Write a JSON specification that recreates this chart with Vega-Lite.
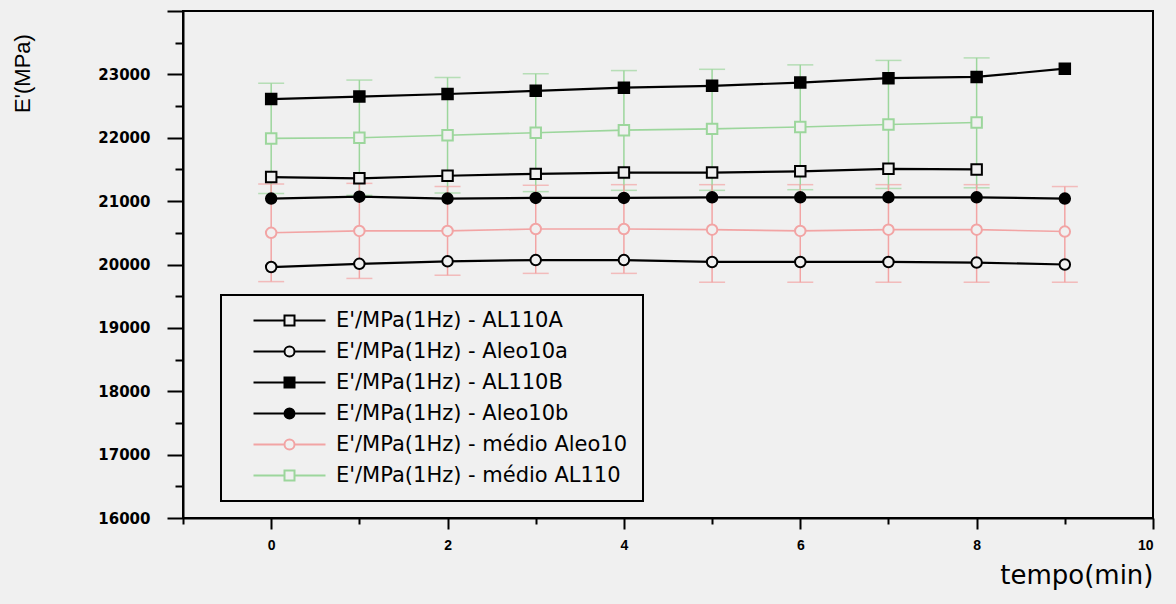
{
  "$schema": "https://vega.github.io/schema/vega-lite/v6.json",
  "width": 970,
  "height": 507,
  "autosize": {"type": "none"},
  "padding": {"left": 183, "top": 11, "right": 23, "bottom": 86},
  "background": "#f0f0f0",
  "config": {
    "view": {"stroke": "#000000", "strokeWidth": 2, "fill": "#f0f0f0"},
    "axis": {"grid": false, "domainColor": "#000000", "domainWidth": 2, "tickColor": "#000000", "tickWidth": 2, "labelColor": "#000000", "titleColor": "#000000"},
    "legend": {"orient": "none", "legendX": 38, "legendY": 284, "padding": 15, "rowPadding": 9, "labelOffset": 79, "labelLimit": 400, "labelFont": "DejaVu Sans", "labelFontSize": 21, "labelColor": "#000000", "symbolSize": 100, "symbolStrokeWidth": 2, "strokeColor": "#000000", "fillColor": "#f0f0f0"}
  },
  "datasets": {
    "curvas": [
      {"t": 0, "serie": "E'/MPa(1Hz) - AL110A", "E": 21380},
      {"t": 1, "serie": "E'/MPa(1Hz) - AL110A", "E": 21360},
      {"t": 2, "serie": "E'/MPa(1Hz) - AL110A", "E": 21400},
      {"t": 3, "serie": "E'/MPa(1Hz) - AL110A", "E": 21430},
      {"t": 4, "serie": "E'/MPa(1Hz) - AL110A", "E": 21450},
      {"t": 5, "serie": "E'/MPa(1Hz) - AL110A", "E": 21450},
      {"t": 6, "serie": "E'/MPa(1Hz) - AL110A", "E": 21470},
      {"t": 7, "serie": "E'/MPa(1Hz) - AL110A", "E": 21510},
      {"t": 8, "serie": "E'/MPa(1Hz) - AL110A", "E": 21500},
      {"t": 0, "serie": "E'/MPa(1Hz) - Aleo10a", "E": 19960},
      {"t": 1, "serie": "E'/MPa(1Hz) - Aleo10a", "E": 20010},
      {"t": 2, "serie": "E'/MPa(1Hz) - Aleo10a", "E": 20050},
      {"t": 3, "serie": "E'/MPa(1Hz) - Aleo10a", "E": 20070},
      {"t": 4, "serie": "E'/MPa(1Hz) - Aleo10a", "E": 20070},
      {"t": 5, "serie": "E'/MPa(1Hz) - Aleo10a", "E": 20040},
      {"t": 6, "serie": "E'/MPa(1Hz) - Aleo10a", "E": 20040},
      {"t": 7, "serie": "E'/MPa(1Hz) - Aleo10a", "E": 20040},
      {"t": 8, "serie": "E'/MPa(1Hz) - Aleo10a", "E": 20030},
      {"t": 9, "serie": "E'/MPa(1Hz) - Aleo10a", "E": 20000},
      {"t": 0, "serie": "E'/MPa(1Hz) - AL110B", "E": 22610},
      {"t": 1, "serie": "E'/MPa(1Hz) - AL110B", "E": 22650},
      {"t": 2, "serie": "E'/MPa(1Hz) - AL110B", "E": 22690},
      {"t": 3, "serie": "E'/MPa(1Hz) - AL110B", "E": 22740},
      {"t": 4, "serie": "E'/MPa(1Hz) - AL110B", "E": 22790},
      {"t": 5, "serie": "E'/MPa(1Hz) - AL110B", "E": 22820},
      {"t": 6, "serie": "E'/MPa(1Hz) - AL110B", "E": 22870},
      {"t": 7, "serie": "E'/MPa(1Hz) - AL110B", "E": 22940},
      {"t": 8, "serie": "E'/MPa(1Hz) - AL110B", "E": 22960},
      {"t": 9, "serie": "E'/MPa(1Hz) - AL110B", "E": 23090},
      {"t": 0, "serie": "E'/MPa(1Hz) - Aleo10b", "E": 21040},
      {"t": 1, "serie": "E'/MPa(1Hz) - Aleo10b", "E": 21070},
      {"t": 2, "serie": "E'/MPa(1Hz) - Aleo10b", "E": 21040},
      {"t": 3, "serie": "E'/MPa(1Hz) - Aleo10b", "E": 21050},
      {"t": 4, "serie": "E'/MPa(1Hz) - Aleo10b", "E": 21050},
      {"t": 5, "serie": "E'/MPa(1Hz) - Aleo10b", "E": 21060},
      {"t": 6, "serie": "E'/MPa(1Hz) - Aleo10b", "E": 21060},
      {"t": 7, "serie": "E'/MPa(1Hz) - Aleo10b", "E": 21060},
      {"t": 8, "serie": "E'/MPa(1Hz) - Aleo10b", "E": 21060},
      {"t": 9, "serie": "E'/MPa(1Hz) - Aleo10b", "E": 21040},
      {"t": 0, "serie": "E'/MPa(1Hz) - médio Aleo10", "E": 20500},
      {"t": 1, "serie": "E'/MPa(1Hz) - médio Aleo10", "E": 20530},
      {"t": 2, "serie": "E'/MPa(1Hz) - médio Aleo10", "E": 20530},
      {"t": 3, "serie": "E'/MPa(1Hz) - médio Aleo10", "E": 20560},
      {"t": 4, "serie": "E'/MPa(1Hz) - médio Aleo10", "E": 20560},
      {"t": 5, "serie": "E'/MPa(1Hz) - médio Aleo10", "E": 20550},
      {"t": 6, "serie": "E'/MPa(1Hz) - médio Aleo10", "E": 20530},
      {"t": 7, "serie": "E'/MPa(1Hz) - médio Aleo10", "E": 20550},
      {"t": 8, "serie": "E'/MPa(1Hz) - médio Aleo10", "E": 20550},
      {"t": 9, "serie": "E'/MPa(1Hz) - médio Aleo10", "E": 20520},
      {"t": 0, "serie": "E'/MPa(1Hz) - médio AL110", "E": 21990},
      {"t": 1, "serie": "E'/MPa(1Hz) - médio AL110", "E": 22000},
      {"t": 2, "serie": "E'/MPa(1Hz) - médio AL110", "E": 22040},
      {"t": 3, "serie": "E'/MPa(1Hz) - médio AL110", "E": 22080},
      {"t": 4, "serie": "E'/MPa(1Hz) - médio AL110", "E": 22120},
      {"t": 5, "serie": "E'/MPa(1Hz) - médio AL110", "E": 22140},
      {"t": 6, "serie": "E'/MPa(1Hz) - médio AL110", "E": 22170},
      {"t": 7, "serie": "E'/MPa(1Hz) - médio AL110", "E": 22210},
      {"t": 8, "serie": "E'/MPa(1Hz) - médio AL110", "E": 22240}
    ],
    "barras": [
      {"t": 0, "serie": "E'/MPa(1Hz) - médio AL110", "lo": 21120, "hi": 22860},
      {"t": 1, "serie": "E'/MPa(1Hz) - médio AL110", "lo": 21090, "hi": 22910},
      {"t": 2, "serie": "E'/MPa(1Hz) - médio AL110", "lo": 21130, "hi": 22950},
      {"t": 3, "serie": "E'/MPa(1Hz) - médio AL110", "lo": 21150, "hi": 23010},
      {"t": 4, "serie": "E'/MPa(1Hz) - médio AL110", "lo": 21170, "hi": 23060},
      {"t": 5, "serie": "E'/MPa(1Hz) - médio AL110", "lo": 21170, "hi": 23080},
      {"t": 6, "serie": "E'/MPa(1Hz) - médio AL110", "lo": 21180, "hi": 23150},
      {"t": 7, "serie": "E'/MPa(1Hz) - médio AL110", "lo": 21200, "hi": 23220},
      {"t": 8, "serie": "E'/MPa(1Hz) - médio AL110", "lo": 21210, "hi": 23260},
      {"t": 0, "serie": "E'/MPa(1Hz) - médio Aleo10", "lo": 19730, "hi": 21270},
      {"t": 1, "serie": "E'/MPa(1Hz) - médio Aleo10", "lo": 19780, "hi": 21280},
      {"t": 2, "serie": "E'/MPa(1Hz) - médio Aleo10", "lo": 19830, "hi": 21230},
      {"t": 3, "serie": "E'/MPa(1Hz) - médio Aleo10", "lo": 19860, "hi": 21250},
      {"t": 4, "serie": "E'/MPa(1Hz) - médio Aleo10", "lo": 19860, "hi": 21260},
      {"t": 5, "serie": "E'/MPa(1Hz) - médio Aleo10", "lo": 19720, "hi": 21260},
      {"t": 6, "serie": "E'/MPa(1Hz) - médio Aleo10", "lo": 19720, "hi": 21260},
      {"t": 7, "serie": "E'/MPa(1Hz) - médio Aleo10", "lo": 19720, "hi": 21260},
      {"t": 8, "serie": "E'/MPa(1Hz) - médio Aleo10", "lo": 19720, "hi": 21260},
      {"t": 9, "serie": "E'/MPa(1Hz) - médio Aleo10", "lo": 19720, "hi": 21230}
    ]
  },
  "layer": [
    {
      "data": {"name": "barras"},
      "mark": {"type": "errorbar", "thickness": 1.5, "ticks": {"size": 26, "thickness": 1.5}},
      "encoding": {
        "x": {"field": "t", "type": "quantitative", "axis": null, "scale": {"domain": [-1, 10], "nice": false, "zero": false}},
        "y": {"field": "lo", "type": "quantitative", "axis": null, "scale": {"domain": [16000, 24000], "nice": false, "zero": false}},
        "y2": {"field": "hi"},
        "color": {"field": "serie", "type": "nominal", "legend": null, "scale": {"domain": ["E'/MPa(1Hz) - médio Aleo10", "E'/MPa(1Hz) - médio AL110"], "range": ["#f2a4a4", "#9cd69c"]}}
      }
    },
    {
      "data": {"name": "curvas"},
      "transform": [{"filter": "indexof(datum.serie, 'médio') >= 0"}],
      "mark": {"type": "line", "strokeWidth": 1.6},
      "encoding": {
        "x": {"field": "t", "type": "quantitative", "axis": {"orient": "bottom", "values": [-1, 1, 3, 5, 7, 9], "tickSize": 6, "labels": false, "domain": false, "title": null}},
        "y": {"field": "E", "type": "quantitative", "axis": {"orient": "left", "values": [16500, 17500, 18500, 19500, 20500, 21500, 22500, 23500], "tickSize": 8, "labels": false, "domain": false, "title": null}},
        "stroke": {"field": "serie", "type": "nominal",
          "legend": {"title": null, "encode": {
            "symbols": {"update": {"shape": {"signal": "test(/AL110/, datum.value) ? 'M1.4,0H7.6M9.6,0H15.8M7.6,-1H9.6V1H7.6Z' : 'M1.4,0H7.6M9.6,0H15.8M9.6,0A1,1,0,1,1,7.6,0A1,1,0,1,1,9.6,0Z'"}, "fill": {"scale": "fill", "field": "value"}, "stroke": {"scale": "stroke", "field": "value"}, "strokeWidth": {"value": 2}, "opacity": {"value": 1}}},
            "legend": {"update": {"strokeWidth": {"value": 2}}}}}},
        "detail": {"field": "serie", "type": "nominal"}
      }
    },
    {
      "data": {"name": "curvas"},
      "transform": [{"filter": "indexof(datum.serie, 'médio') < 0"}],
      "mark": {"type": "line", "strokeWidth": 2.2},
      "encoding": {
        "x": {"field": "t", "type": "quantitative", "axis": {"orient": "bottom", "values": [0, 2, 4, 6, 8, 10], "tickSize": 11, "labelPadding": 9, "labelFont": "Liberation Sans", "labelFontSize": 14, "labelFontWeight": "bold", "title": "tempo(min)", "titleFont": "DejaVu Sans", "titleFontSize": 26, "titleFontWeight": "normal", "titleAnchor": "end", "titlePadding": 10}},
        "y": {"field": "E", "type": "quantitative", "axis": {"orient": "left", "values": [16000, 17000, 18000, 19000, 20000, 21000, 22000, 23000, 24000], "format": "d", "labelExpr": "datum.value == 24000 ? '' : datum.label", "tickSize": 16, "labelPadding": 17, "labelFont": "DejaVu Sans", "labelFontSize": 15, "labelFontWeight": "bold", "title": "E'(MPa)", "titleFont": "Liberation Sans", "titleFontSize": 22, "titleFontWeight": "normal", "titleX": -161, "titleY": 62, "titleAngle": -90, "titleAlign": "center", "titleBaseline": "middle"}},
        "stroke": {"field": "serie", "type": "nominal",
          "legend": {"title": null, "encode": {
            "symbols": {"update": {"shape": {"signal": "test(/AL110/, datum.value) ? 'M1.4,0H7.6M9.6,0H15.8M7.6,-1H9.6V1H7.6Z' : 'M1.4,0H7.6M9.6,0H15.8M9.6,0A1,1,0,1,1,7.6,0A1,1,0,1,1,9.6,0Z'"}, "fill": {"scale": "fill", "field": "value"}, "stroke": {"scale": "stroke", "field": "value"}, "strokeWidth": {"value": 2}, "opacity": {"value": 1}}},
            "legend": {"update": {"strokeWidth": {"value": 2}}}}}},
        "detail": {"field": "serie", "type": "nominal"}
      }
    },
    {
      "data": {"name": "curvas"},
      "mark": {"type": "point", "filled": true, "size": 110, "strokeWidth": 2, "opacity": 1},
      "encoding": {
        "x": {"field": "t", "type": "quantitative", "axis": null},
        "y": {"field": "E", "type": "quantitative", "axis": null},
        "shape": {"field": "serie", "type": "nominal", "legend": null, "scale": {"domain": ["E'/MPa(1Hz) - médio AL110", "E'/MPa(1Hz) - médio Aleo10", "E'/MPa(1Hz) - Aleo10b", "E'/MPa(1Hz) - AL110B", "E'/MPa(1Hz) - Aleo10a", "E'/MPa(1Hz) - AL110A"], "range": ["square", "circle", "circle", "square", "circle", "square"]}},
        "fill": {"field": "serie", "type": "nominal", "scale": {"domain": ["E'/MPa(1Hz) - AL110A", "E'/MPa(1Hz) - Aleo10a", "E'/MPa(1Hz) - AL110B", "E'/MPa(1Hz) - Aleo10b", "E'/MPa(1Hz) - médio Aleo10", "E'/MPa(1Hz) - médio AL110"], "range": ["#f0f0f0", "#f0f0f0", "#000000", "#000000", "#f0f0f0", "#f0f0f0"]},
          "legend": {"title": null, "encode": {
            "symbols": {"update": {"shape": {"signal": "test(/AL110/, datum.value) ? 'M1.4,0H7.6M9.6,0H15.8M7.6,-1H9.6V1H7.6Z' : 'M1.4,0H7.6M9.6,0H15.8M9.6,0A1,1,0,1,1,7.6,0A1,1,0,1,1,9.6,0Z'"}, "fill": {"scale": "fill", "field": "value"}, "stroke": {"scale": "stroke", "field": "value"}, "strokeWidth": {"value": 2}, "opacity": {"value": 1}}},
            "legend": {"update": {"strokeWidth": {"value": 2}}}}}},
        "stroke": {"field": "serie", "type": "nominal", "scale": {"domain": ["E'/MPa(1Hz) - AL110A", "E'/MPa(1Hz) - Aleo10a", "E'/MPa(1Hz) - AL110B", "E'/MPa(1Hz) - Aleo10b", "E'/MPa(1Hz) - médio Aleo10", "E'/MPa(1Hz) - médio AL110"], "range": ["#000000", "#000000", "#000000", "#000000", "#f2a4a4", "#9cd69c"]},
          "legend": {"title": null, "encode": {
            "symbols": {"update": {"shape": {"signal": "test(/AL110/, datum.value) ? 'M1.4,0H7.6M9.6,0H15.8M7.6,-1H9.6V1H7.6Z' : 'M1.4,0H7.6M9.6,0H15.8M9.6,0A1,1,0,1,1,7.6,0A1,1,0,1,1,9.6,0Z'"}, "fill": {"scale": "fill", "field": "value"}, "stroke": {"scale": "stroke", "field": "value"}, "strokeWidth": {"value": 2}, "opacity": {"value": 1}}},
            "legend": {"update": {"strokeWidth": {"value": 2}}}}}}
      }
    }
  ],
  "resolve": {"axis": {"x": "independent", "y": "independent"}}
}
